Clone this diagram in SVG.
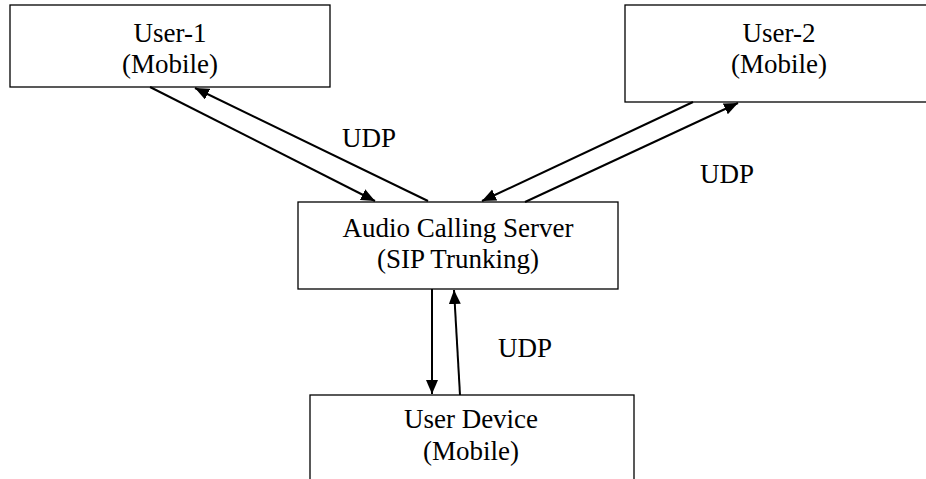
<svg xmlns="http://www.w3.org/2000/svg" width="926" height="479" viewBox="0 0 926 479">
<style>
.box{fill:#fff;stroke:#000;stroke-width:1.3}
.t{font-family:"Liberation Serif","Times New Roman","DejaVu Serif",serif;font-size:27px;fill:#000;text-anchor:middle}
.c{stroke:#000;stroke-width:2;fill:none;marker-end:url(#ah)}
</style>
<defs>
<marker id="ah" markerUnits="userSpaceOnUse" markerWidth="15" markerHeight="13" refX="14" refY="6" orient="auto" viewBox="0 0 15 13">
<path d="M0,0 L14,6 L0,12 z" fill="#000"/>
</marker>
</defs>
<rect x="0" y="0" width="926" height="479" fill="#fff"/>
<g id="user1">
<rect class="box" x="10" y="5" width="320" height="82"/>
<text class="t" x="170" y="42">User-1</text>
<text class="t" x="170" y="73">(Mobile)</text>
</g>
<g id="user2">
<rect class="box" x="625" y="5" width="310" height="97"/>
<text class="t" x="779" y="42">User-2</text>
<text class="t" x="779" y="73">(Mobile)</text>
</g>
<g id="server">
<rect class="box" x="298" y="202" width="320" height="87"/>
<text class="t" x="458" y="237">Audio Calling Server</text>
<text class="t" x="458" y="268">(SIP Trunking)</text>
</g>
<g id="userdevice">
<rect class="box" x="310" y="395" width="324" height="100"/>
<text class="t" x="471" y="428">User Device</text>
<text class="t" x="471" y="460">(Mobile)</text>
</g>
<g id="connectors">
<line class="c" x1="150" y1="87" x2="375" y2="201"/>
<line class="c" x1="428" y1="201" x2="195" y2="88"/>
<line class="c" x1="693" y1="102" x2="482" y2="201"/>
<line class="c" x1="525" y1="202" x2="738" y2="103"/>
<line class="c" x1="432" y1="289" x2="432" y2="394"/>
<line class="c" x1="460" y1="395" x2="454" y2="290"/>
<text class="t" x="369" y="147">UDP</text>
<text class="t" x="727" y="183">UDP</text>
<text class="t" x="525" y="357">UDP</text>
</g>
</svg>
